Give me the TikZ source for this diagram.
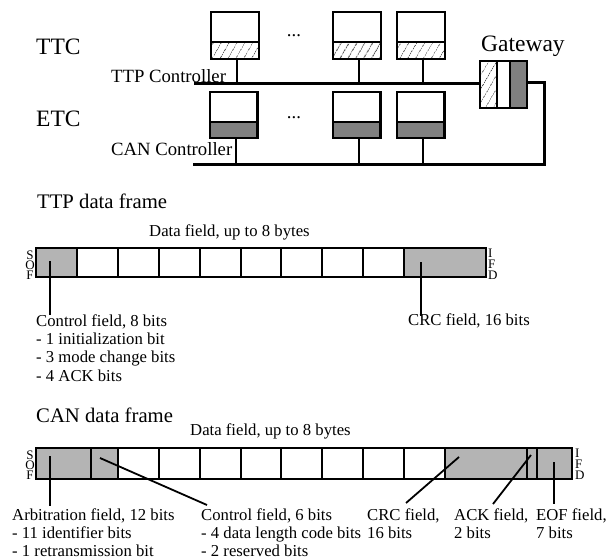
\documentclass[tikz,border=0pt]{standalone}
\usepackage{fontspec}
\setmainfont{Liberation Serif}
\usetikzlibrary{patterns.meta}
\definecolor{fieldgray}{RGB}{180,180,180}
\definecolor{ctrlgray}{RGB}{128,128,128}
\definecolor{hatchgray}{RGB}{85,85,85}
\begin{document}
\begin{tikzpicture}[x=1pt,y=-1pt,
  box/.style={draw,line width=2.6pt,inner sep=0pt,outer sep=0pt,anchor=north west},
  hatched/.style={pattern={Lines[angle=60,distance=6.5pt,line width=0.8pt]},pattern color=hatchgray},
  darkpart/.style={fill=ctrlgray},
  bus/.style={line width=3pt},
  stem/.style={line width=2pt},
  cell/.style={draw,line width=2pt,inner sep=0pt,outer sep=0pt,anchor=north west},
  framebox/.style={draw,line width=2.5pt,inner sep=0pt,outer sep=0pt,anchor=north west},
  leader/.style={line width=1.8pt},
  bigtxt/.style={inner sep=0pt,anchor=base west,font=\fontsize{23.5}{26}\selectfont},
  midtxt/.style={inner sep=0pt,anchor=base west,font=\fontsize{20.7}{24}\selectfont},
  ctltxt/.style={inner sep=0pt,anchor=base west,font=\fontsize{18.7}{22}\selectfont},
  lbl/.style={inner sep=0pt,anchor=base west,font=\fontsize{16.7}{18}\selectfont},
  sofstack/.style={inner sep=0pt,align=center,text depth=0pt,anchor=south,font=\fontsize{13}{10}\selectfont},
  ifdstack/.style={inner sep=0pt,align=left,text depth=0pt,anchor=south west,font=\fontsize{13}{11}\selectfont},
]
\useasboundingbox (0,0) rectangle (612,559);

% ---------- network: TTC cluster ----------
\node[bigtxt] (ttc) at (36,55) {TTC};
\node[bigtxt] (etc) at (36,126) {ETC};
\node[ctltxt] (ttpctl) at (111,83) {TTP Controller};
\node[ctltxt] (canctl) at (111,155) {CAN Controller};

\foreach \n/\x in {1/211,2/333,3/397}{
  \node[box,minimum width=48pt,minimum height=30pt] (t\n) at (\x,12) {};
  \node[box,hatched,minimum width=48pt,minimum height=17pt] (t\n c) at (\x,42) {};
}
\node[ctltxt,anchor=base] (tdots) at (294,37) {...};

% ---------- network: ETC cluster ----------
\foreach \n/\x in {1/210,2/333,3/397}{
  \node[box,minimum width=47.5pt,minimum height=30pt] (e\n) at (\x,92) {};
  \node[box,darkpart,minimum width=47.5pt,minimum height=16pt] (e\n c) at (\x,122) {};
}
\node[ctltxt,anchor=base] (edots) at (294,118) {...};

% ---------- gateway ----------
\node[bigtxt] (gwlabel) at (481,52) {Gateway};
\node[box,hatched,minimum width=17pt,minimum height=47pt] (g1) at (480,61) {};
\node[box,minimum width=13pt,minimum height=47pt] (g2) at (497,61) {};
\node[box,darkpart,minimum width=17pt,minimum height=47pt] (g3) at (510,61) {};

% ---------- buses ----------
\coordinate (ttcL) at (194,84);
\coordinate (canL) at (193,164);
\coordinate (gwR) at (544,83);
\coordinate (gwB) at (544,164);
\draw[bus] (ttcL) -- (ttcL -| g1.west);
\draw[bus] (g3.east |- gwR) -- (gwR) -- (gwB) -- (canL);
\foreach \n in {1,2,3}{
  \draw[stem] ([xshift=2pt]t\n c.south) -- ([xshift=2pt]t\n c.south |- ttcL);
  \draw[stem] ([xshift=2pt]e\n c.south) -- ([xshift=2pt]e\n c.south |- canL);
}

% ---------- TTP data frame ----------
\def\u{40.9}
\node[midtxt] (ttptitle) at (37,208) {TTP data frame};
\node[lbl] (ttpdata) at (149,236) {Data field, up to 8 bytes};
\node[cell,fill=fieldgray,minimum width=\u pt,minimum height=29pt] (p0) at (36,248) {};
\foreach \i in {1,...,8}{
  \node[cell,minimum width=\u pt,minimum height=29pt] (p\i) at ({36+\i*\u},248) {};
}
\node[cell,fill=fieldgray,minimum width=81.8pt,minimum height=29pt] (pcrc) at ({36+9*\u},248) {};
\node[framebox,minimum width=449.9pt,minimum height=29pt] (ttpframe) at (36,248) {};

\node[sofstack] (psof) at (30,280) {S\\O\\F};
\node[ifdstack] (pifd) at (488,280) {I\\F\\D};

\node[lbl] (pctl) at (36,326) {Control field, 8 bits};
\node[lbl] (pctl1) at (36,344.3) {- 1 initialization bit};
\node[lbl] (pctl2) at (36,362.6) {- 3 mode change bits};
\node[lbl] (pctl3) at (36,381) {- 4 ACK bits};
\node[lbl] (pcrctxt) at (408,325) {CRC field, 16 bits};

\coordinate (pctlA) at (50,261);
\coordinate (pctlB) at (50,315);
\coordinate (pcrcA) at (421,262);
\coordinate (pcrcB) at (421,316);
\draw[leader] (pctlA) -- (pctlB);
\draw[leader] (pcrcA) -- (pcrcB);

% ---------- CAN data frame ----------
\node[midtxt] (cantitle) at (36,422) {CAN data frame};
\node[lbl] (candata) at (190,435) {Data field, up to 8 bytes};
\node[cell,fill=fieldgray,minimum width=54.5pt,minimum height=31pt] (carb) at (36,448) {};
\node[cell,fill=fieldgray,minimum width=27.3pt,minimum height=31pt] (cctl) at (90.5,448) {};
\foreach \i in {0,...,7}{
  \node[cell,minimum width=\u pt,minimum height=31pt] (c\i) at ({117.8+\i*\u},448) {};
}
\node[cell,fill=fieldgray,minimum width=81.8pt,minimum height=31pt] (ccrc) at (445,448) {};
\node[cell,fill=fieldgray,minimum width=10.2pt,minimum height=31pt] (cack) at (526.8,448) {};
\node[cell,fill=fieldgray,minimum width=35pt,minimum height=31pt] (ceof) at (537,448) {};
\node[framebox,minimum width=536pt,minimum height=31pt] (canframe) at (36,448) {};

\node[sofstack] (csof) at (30,480) {S\\O\\F};
\node[ifdstack] (cifd) at (575,480) {I\\F\\D};

\node[lbl] (carbt) at (12,520) {Arbitration field, 12 bits};
\node[lbl] (carb1) at (12,538) {- 11 identifier bits};
\node[lbl] (carb2) at (12,556) {- 1 retransmission bit};
\node[lbl] (cctlt) at (201,520) {Control field, 6 bits};
\node[lbl] (cctl1) at (201,538) {- 4 data length code bits};
\node[lbl] (cctl2) at (201,556) {- 2 reserved bits};
\node[lbl] (ccrct) at (367,520) {CRC field,};
\node[lbl] (ccrc1) at (367,538) {16 bits};
\node[lbl] (cackt) at (454,520) {ACK field,};
\node[lbl] (cack1) at (454,538) {2 bits};
\node[lbl] (ceoft) at (536,520) {EOF field,};
\node[lbl] (ceof1) at (536,538) {7 bits};

\coordinate (carbA) at (50,456);
\coordinate (carbB) at (50,506);
\coordinate (cctlA) at (100,458);
\coordinate (cctlB) at (207,505);
\coordinate (ccrcA) at (459,457);
\coordinate (ccrcB) at (406,503);
\coordinate (cackA) at (531,455);
\coordinate (cackB) at (493,504);
\coordinate (ceofA) at (554,462);
\coordinate (ceofB) at (554,504);
\draw[leader] (carbA) -- (carbB);
\draw[leader] (cctlA) -- (cctlB);
\draw[leader] (ccrcA) -- (ccrcB);
\draw[leader] (cackA) -- (cackB);
\draw[leader] (ceofA) -- (ceofB);
\end{tikzpicture}
\end{document}
